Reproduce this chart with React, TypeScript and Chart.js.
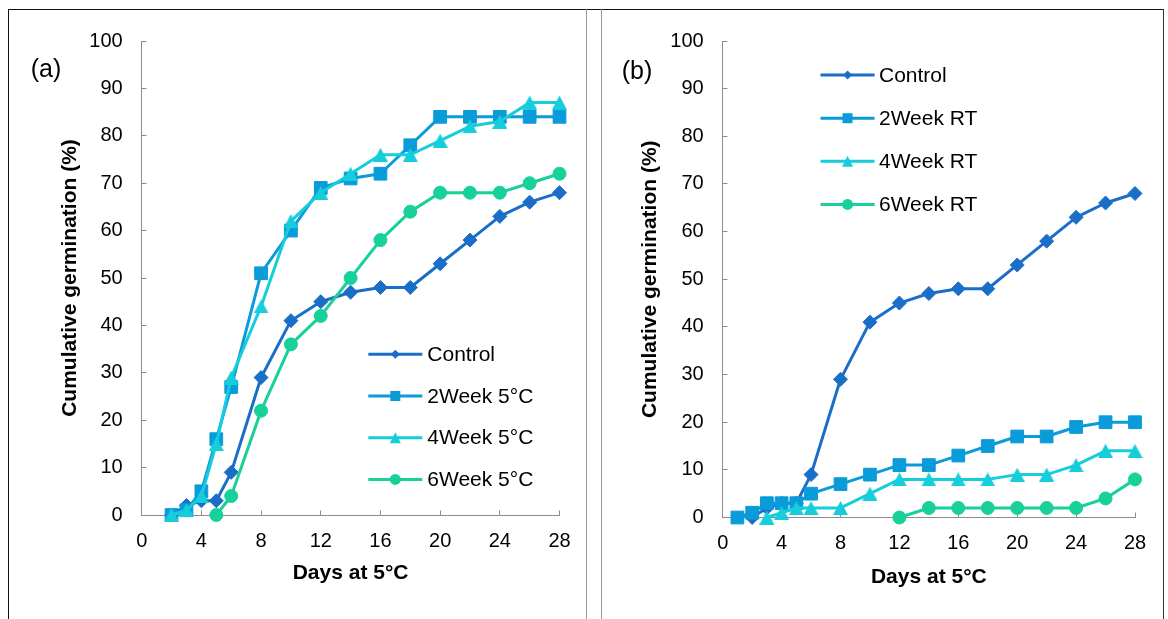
import React, { useEffect, useRef } from "react";
import { Chart, registerables } from "chart.js";

Chart.register(...registerables);

// ---------------- data ----------------
const X_TICKS = [0, 4, 8, 12, 16, 20, 24, 28];
const Y_TICKS = [0, 10, 20, 30, 40, 50, 60, 70, 80, 90, 100];

const X_TITLE = "Days at 5°C";
const Y_TITLE = "Cumulative germination (%)";

// panel (a)
const DAYS_A = [2, 3, 4, 5, 6, 8, 10, 12, 14, 16, 18, 20, 22, 24, 26, 28];
const DAYS_6W_A = [5, 6, 8, 10, 12, 14, 16, 18, 20, 22, 24, 26, 28];
const CONTROL = [0, 2, 3, 3, 9, 29, 41, 45, 47, 48, 48, 53, 58, 63, 66, 68];
const WEEK2_5C = [0, 1, 5, 16, 27, 51, 60, 69, 71, 72, 78, 84, 84, 84, 84, 84];
const WEEK4_5C = [0, 1, 4, 15, 29, 44, 62, 68, 72, 76, 76, 79, 82, 83, 87, 87];
const WEEK6_5C = [0, 4, 22, 36, 42, 50, 58, 64, 68, 68, 68, 70, 72];
const LABELS_A = ["Control", "2Week 5°C", "4Week 5°C", "6Week 5°C"];

// panel (b)
const DAYS_2W_B = [1, 2, 3, 4, 5, 6, 8, 10, 12, 14, 16, 18, 20, 22, 24, 26, 28];
const WEEK2_RT = [0, 1, 3, 3, 3, 5, 7, 9, 11, 11, 13, 15, 17, 17, 19, 20, 20];
const DAYS_4W_B = [3, 4, 5, 6, 8, 10, 12, 14, 16, 18, 20, 22, 24, 26, 28];
const WEEK4_RT = [0, 1, 2, 2, 2, 5, 8, 8, 8, 8, 9, 9, 11, 14, 14];
const DAYS_6W_B = [12, 14, 16, 18, 20, 22, 24, 26, 28];
const WEEK6_RT = [0, 2, 2, 2, 2, 2, 2, 4, 8];
const LABELS_B = ["Control", "2Week RT", "4Week RT", "6Week RT"];

// ---------------- styles ----------------
const COLORS = ["#1a6ec8", "#0a9bd9", "#16cddc", "#17d09a"];
const MARKERS = ["diamond", "square", "triangle", "circle"];
const LEGEND_SIZES = [4.5, 5, 5.5, 5.5];
const AXIS_COLOR = "#8c8c8c";
const FONT = '"Liberation Sans", Arial, Helvetica, sans-serif';

function triangleImage(color: string, w: number, h: number) {
  const c = document.createElement("canvas");
  c.width = w;
  c.height = h;
  const g = c.getContext("2d")!;
  g.fillStyle = color;
  g.beginPath();
  g.moveTo(w / 2, 0);
  g.lineTo(w, h);
  g.lineTo(0, h);
  g.closePath();
  g.fill();
  return c;
}

function drawMarker(ctx: CanvasRenderingContext2D, kind: string, x: number, y: number, s: number, color: string) {
  ctx.fillStyle = color;
  ctx.beginPath();
  if (kind === "diamond") {
    ctx.moveTo(x, y - s);
    ctx.lineTo(x + s, y);
    ctx.lineTo(x, y + s);
    ctx.lineTo(x - s, y);
    ctx.closePath();
  } else if (kind === "square") {
    ctx.rect(x - s, y - s, 2 * s, 2 * s);
  } else if (kind === "triangle") {
    ctx.moveTo(x, y - s);
    ctx.lineTo(x + s, y + s);
    ctx.lineTo(x - s, y + s);
    ctx.closePath();
  } else {
    ctx.arc(x, y, s, 0, Math.PI * 2);
  }
  ctx.fill();
}

const decorPlugin = {
  id: "panelDecor",
  beforeDatasetsDraw(chart: any) {
    const { ctx, chartArea } = chart;
    const xs = chart.scales.x;
    const ys = chart.scales.y;
    const bottom = Math.round(chartArea.bottom - 0.5) + 0.5;
    const left = Math.round(chartArea.left - 0.5) + 0.5;
    ctx.save();
    ctx.strokeStyle = AXIS_COLOR;
    ctx.lineWidth = 1;
    ctx.beginPath();
    xs.ticks.forEach((t: any) => {
      const px = Math.round(xs.getPixelForValue(t.value) - 0.5) + 0.5;
      ctx.moveTo(px, bottom);
      ctx.lineTo(px, bottom - 5);
    });
    ys.ticks.forEach((t: any) => {
      const py = Math.round(ys.getPixelForValue(t.value) - 0.5) + 0.5;
      ctx.moveTo(left, py);
      ctx.lineTo(left + 5, py);
    });
    ctx.stroke();
    ctx.restore();
  },
  afterDraw(chart: any, _args: any, opts: any) {
    const { ctx } = chart;
    ctx.save();
    const lg = opts.legend;
    chart.data.datasets.forEach((ds: any, i: number) => {
      const y = lg.y0 + i * lg.dy;
      ctx.strokeStyle = ds.borderColor;
      ctx.lineWidth = 3;
      ctx.beginPath();
      ctx.moveTo(lg.x0, y);
      ctx.lineTo(lg.x1, y);
      ctx.stroke();
      drawMarker(ctx, MARKERS[i], (lg.x0 + lg.x1) / 2, y, LEGEND_SIZES[i], ds.borderColor);
      ctx.fillStyle = "#000";
      ctx.font = `21px ${FONT}`;
      ctx.textAlign = "left";
      ctx.textBaseline = "middle";
      ctx.fillText(ds.label, lg.textX, y + 1);
    });
    ctx.fillStyle = "#000";
    ctx.font = `25px ${FONT}`;
    ctx.textAlign = "left";
    ctx.textBaseline = "middle";
    ctx.fillText(opts.label.text, opts.label.x, opts.label.y);
    ctx.restore();
  },
};

type Series = { days: number[]; values: number[] };

type PanelSpec = {
  width: number;
  height: number;
  labels: string[];
  series: Series[];
  padding: { left: number; right: number; top: number; bottom: number };
  yTitlePad: number;
  xTitlePad: number;
  legend: { x0: number; x1: number; textX: number; y0: number; dy: number };
  label: { text: string; x: number; y: number };
};

const PANEL_A: PanelSpec = {
  width: 577,
  height: 609,
  labels: LABELS_A,
  series: [
    { days: DAYS_A, values: CONTROL },
    { days: DAYS_A, values: WEEK2_5C },
    { days: DAYS_A, values: WEEK4_5C },
    { days: DAYS_6W_A, values: WEEK6_5C },
  ],
  padding: { left: 32.7, right: 26.5, top: 26.7, bottom: 24 },
  yTitlePad: 15.7,
  xTitlePad: 8.7,
  legend: { x0: 359.3, x1: 413.3, textX: 418.3, y0: 344.3, dy: 41.7 },
  label: { text: "(a)", x: 21.7, y: 60 },
};

const PANEL_B: PanelSpec = {
  width: 560,
  height: 609,
  labels: LABELS_B,
  series: [
    { days: DAYS_A, values: CONTROL },
    { days: DAYS_2W_B, values: WEEK2_RT },
    { days: DAYS_4W_B, values: WEEK4_RT },
    { days: DAYS_6W_B, values: WEEK6_RT },
  ],
  padding: { left: 19.7, right: 28, top: 23.3, bottom: 21.5 },
  yTitlePad: 14.7,
  xTitlePad: 7.6,
  legend: { x0: 217.5, x1: 271.6, textX: 276, y0: 65.1, dy: 43.1 },
  label: { text: "(b)", x: 18.7, y: 61.7 },
};

function buildConfig(p: PanelSpec): any {
  const pointStyles: any[] = ["rectRot", "rect", triangleImage(COLORS[2], 15, 14), "circle"];
  const radii = [7, 9, 7.5, 6.5];
  return {
    type: "line",
    data: {
      datasets: p.series.map((s, i) => ({
        label: p.labels[i],
        data: s.days.map((d, j) => ({ x: d, y: s.values[j] })),
        borderColor: COLORS[i],
        backgroundColor: COLORS[i],
        borderWidth: 3,
        borderJoinStyle: "round",
        pointStyle: pointStyles[i],
        pointRadius: radii[i],
        pointBorderWidth: 1,
        pointBackgroundColor: COLORS[i],
        pointBorderColor: COLORS[i],
        tension: 0,
        clip: false,
        order: 3 - i,
      })),
    },
    options: {
      animation: false,
      responsive: false,
      maintainAspectRatio: false,
      events: [],
      layout: { padding: p.padding },
      plugins: {
        legend: { display: false },
        tooltip: { enabled: false },
        panelDecor: { legend: p.legend, label: p.label },
      },
      scales: {
        x: {
          type: "linear",
          min: 0,
          max: 28,
          afterBuildTicks: (s: any) => {
            s.ticks = X_TICKS.map((v) => ({ value: v }));
          },
          afterFit: (s: any) => {
            s.height = 80;
          },
          grid: { display: false, drawTicks: false },
          border: { display: true, color: AXIS_COLOR, width: 1 },
          ticks: { padding: 14, color: "#000", font: { size: 20, family: FONT }, maxRotation: 0 },
          title: {
            display: true,
            text: X_TITLE,
            color: "#000",
            font: { size: 21, weight: "bold", family: FONT },
            padding: { top: 0, bottom: p.xTitlePad },
          },
        },
        y: {
          type: "linear",
          min: 0,
          max: 100,
          afterBuildTicks: (s: any) => {
            s.ticks = Y_TICKS.map((v) => ({ value: v }));
          },
          afterFit: (s: any) => {
            s.width = 100;
          },
          grid: { display: false, drawTicks: false },
          border: { display: true, color: AXIS_COLOR, width: 1 },
          ticks: { padding: 19, color: "#000", font: { size: 20, family: FONT } },
          title: {
            display: true,
            text: Y_TITLE,
            color: "#000",
            font: { size: 21, weight: "bold", family: FONT },
            padding: { top: p.yTitlePad, bottom: 0 },
          },
        },
      },
    },
    plugins: [decorPlugin],
  };
}

export default function App() {
  const leftRef = useRef<HTMLCanvasElement>(null);
  const rightRef = useRef<HTMLCanvasElement>(null);

  useEffect(() => {
    const charts = [
      new Chart(leftRef.current!, buildConfig(PANEL_A)),
      new Chart(rightRef.current!, buildConfig(PANEL_B)),
    ];
    return () => charts.forEach((c) => c.destroy());
  }, []);

  const line = (left: number, top: number, width: number, height: number, color: string) => (
    <div style={{ position: "absolute", left, top, width, height, background: color }} />
  );

  return (
    <div
      style={{
        position: "fixed",
        left: 0,
        top: 0,
        width: 1168,
        height: 619,
        overflow: "hidden",
        background: "#fff",
      }}
    >
      {line(8, 9, 1156, 1, "#111")}
      {line(8, 9, 1, 610, "#111")}
      {line(1163, 9, 1, 610, "#333")}
      {line(586, 9, 1, 610, "#9a9a9a")}
      {line(601, 9, 1, 610, "#9a9a9a")}
      <canvas
        ref={leftRef}
        width={PANEL_A.width}
        height={PANEL_A.height}
        style={{ position: "absolute", left: 9, top: 10, width: PANEL_A.width, height: PANEL_A.height }}
      />
      <canvas
        ref={rightRef}
        width={PANEL_B.width}
        height={PANEL_B.height}
        style={{ position: "absolute", left: 603, top: 10, width: PANEL_B.width, height: PANEL_B.height }}
      />
    </div>
  );
}
